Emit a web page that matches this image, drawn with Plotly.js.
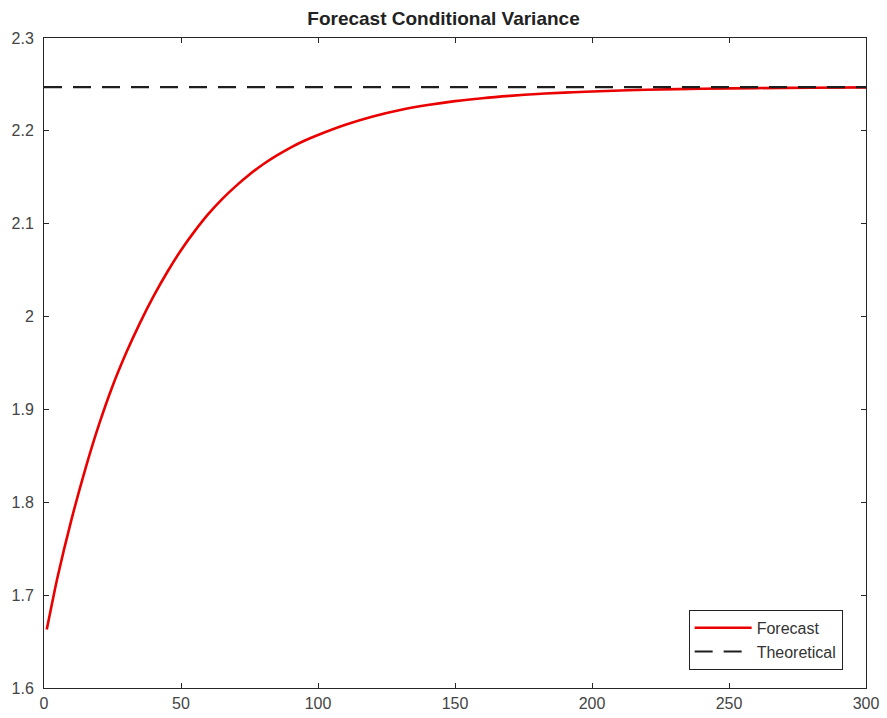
<!DOCTYPE html>
<html>
<head>
<meta charset="utf-8">
<script src="https://cdn.plot.ly/plotly-3.0.1.min.js"></script>
<style>html,body{margin:0;padding:0;background:#fff;}#chart{width:887px;height:718px;}</style>
</head>
<body>
<div id="chart"></div>
<script>
// Forecast horizon (periods) and forecast conditional variance
const forecastX = [1, 3, 5, 10, 15, 20, 25, 30, 35, 40, 45, 50, 55, 60, 65, 70, 75, 80, 85, 90, 95, 100, 110, 120, 130, 140, 150, 160, 170, 180, 190, 200, 220, 240, 260, 280, 300];
const forecastY = [1.663, 1.692, 1.720, 1.781, 1.835, 1.883, 1.925, 1.961, 1.993, 2.022, 2.048, 2.0715, 2.092, 2.1105, 2.1265, 2.1405, 2.153, 2.164, 2.1735, 2.182, 2.1893, 2.1955, 2.2065, 2.2155, 2.2225, 2.2278, 2.232, 2.2352, 2.2377, 2.2397, 2.2412, 2.2424, 2.2442, 2.2453, 2.2460, 2.2465, 2.2468];
// Theoretical (unconditional) variance
const theoreticalX = [0, 300];
const theoreticalY = [2.247, 2.247];
// Axis ticks
const xTickVals = [0, 50, 100, 150, 200, 250, 300];
const yTickVals = [1.6, 1.7, 1.8, 1.9, 2.0, 2.1, 2.2, 2.3];
const yTickText = ["1.6", "1.7", "1.8", "1.9", "2", "2.1", "2.2", "2.3"];

const traces = [
  {x: forecastX, y: forecastY, type: 'scatter', mode: 'lines', name: 'Forecast',
   line: {color: 'rgb(235,0,0)', width: 2.6, shape: 'spline', smoothing: 1}},
  {x: theoreticalX, y: theoreticalY, type: 'scatter', mode: 'lines', name: 'Theoretical',
   line: {color: 'rgb(30,30,30)', width: 2.2, dash: '18px,11px'}}
];

const axisCommon = {
  showgrid: false, zeroline: false, showline: true, mirror: 'ticks',
  linecolor: '#262626', linewidth: 1, ticks: 'inside', ticklen: 5, tickwidth: 1, tickcolor: '#262626',
  tickfont: {family: 'Liberation Sans, Arial, sans-serif', size: 16, color: '#444'}
};

const layout = {
  width: 887, height: 718,
  margin: {l: 44, r: 21, t: 38, b: 30, pad: 0},
  paper_bgcolor: '#fff', plot_bgcolor: '#fff',
  title: {text: '<b>Forecast Conditional Variance</b>', x: 0.5, xanchor: 'center', y: 0.975, yanchor: 'middle',
          font: {family: 'Liberation Sans, Arial, sans-serif', size: 19, color: '#222'}},
  xaxis: Object.assign({}, axisCommon, {range: [0, 300], tickmode: 'array', tickvals: xTickVals, ticklabelstandoff: 1}),
  yaxis: Object.assign({}, axisCommon, {range: [1.6, 2.3], tickmode: 'array', tickvals: yTickVals, ticktext: yTickText, ticklabelstandoff: 6}),
  showlegend: true,
  legend: {x: 0.9716, xanchor: 'right', y: 0.028, yanchor: 'bottom',
           bgcolor: '#fff', bordercolor: '#222', borderwidth: 1,
           itemwidth: 57, tracegroupgap: 0,
           font: {family: 'Liberation Sans, Arial, sans-serif', size: 16, color: '#333'}}
};

Plotly.newPlot('chart', traces, layout, {displayModeBar: false, staticPlot: true});
</script>
</body>
</html>
